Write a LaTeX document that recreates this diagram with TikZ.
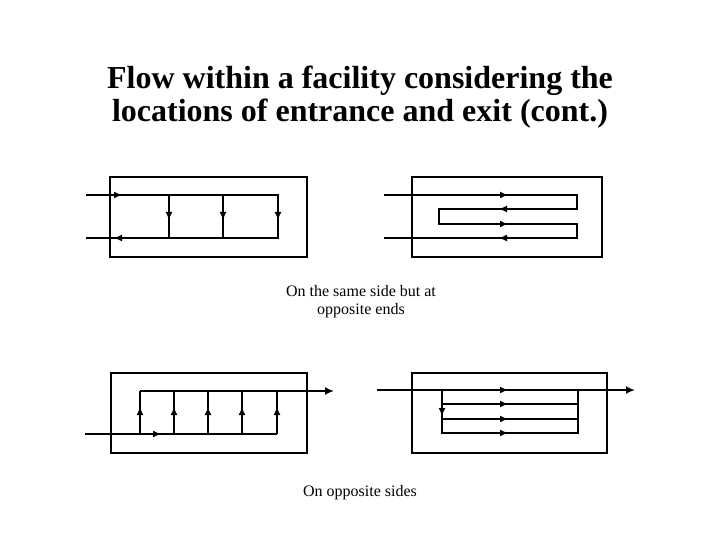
\documentclass[tikz,border=0pt]{standalone}
\usepackage{fontspec}
\setmainfont{Liberation Serif}
\usepackage{tikz}
\usetikzlibrary{arrows.meta}

\tikzset{
  wall/.style={line width=1.3pt},
  flow/.style={line width=1.2pt},
  main/.style={line width=2.6pt},
  tip/.style={line width=1.2pt,-{Latex[length=8pt,width=7pt]}}
}

\begin{document}
\begin{tikzpicture}[x=1pt,y=-1pt]
  \useasboundingbox (0,0) rectangle (720,540);
  \node[font=\fontsize{32}{33}\selectfont\bfseries,align=center] (title) at (360,97)
    {Flow within a facility considering the\\locations of entrance and exit (cont.)};
  % same side, opposite ends
  \draw[wall] (110,177) rectangle (307,257);
  \draw[flow] (86,195) -- (278,195) -- (278,238) -- (86,238);
  \draw[flow] (169,195) -- (169,238);
  \draw[flow] (223,195) -- (223,238);
  \draw[tip] (113,195) -- (122,195);
  \draw[tip] (123,238) -- (114,238);
  \draw[tip] (169,211) -- (169,220);
  \draw[tip] (223,211) -- (223,220);
  \draw[tip] (278,211) -- (278,220);
  \draw[wall] (412,177) rectangle (602,257);
  \draw[flow] (384,195) -- (577,195) -- (577,209) -- (439,209) -- (439,224)
    -- (577,224) -- (577,238) -- (384,238);
  \draw[tip] (499,195) -- (508,195);
  \draw[tip] (508,209) -- (499,209);
  \draw[tip] (499,224) -- (508,224);
  \draw[tip] (508,238) -- (499,238);
  \node[font=\fontsize{16}{18}\selectfont,align=center] (capA) at (361,302)
    {On the same side but at\\opposite ends};
  % opposite sides
  \draw[wall] (111,373) rectangle (307,453);
  \draw[main,-{Latex[length=9pt,width=8pt]}] (140,391) -- (334,391);
  \draw[flow] (85,434) -- (277,434);
  \foreach \xp in {140,174,208,242,277} {
    \draw[flow] (\xp,434) -- (\xp,391);
    \draw[tip] (\xp,416) -- (\xp,407);
  }
  \draw[tip] (152,434) -- (161,434);
  \draw[wall] (412,373) rectangle (607,453);
  \draw[main,-{Latex[length=9pt,width=8pt]}] (377,390) -- (635,390);
  \draw[flow] (442,390) -- (442,433) -- (578,433) -- (578,390);
  \draw[flow] (442,404) -- (578,404);
  \draw[flow] (442,419) -- (578,419);
  \draw[tip] (499,390) -- (508,390);
  \draw[tip] (499,404) -- (508,404);
  \draw[tip] (499,419) -- (508,419);
  \draw[tip] (499,433) -- (508,433);
  \draw[tip] (442,407) -- (442,416);
  \node[font=\fontsize{16}{18}\selectfont] (capB) at (360,493) {On opposite sides};
\end{tikzpicture}
\end{document}
